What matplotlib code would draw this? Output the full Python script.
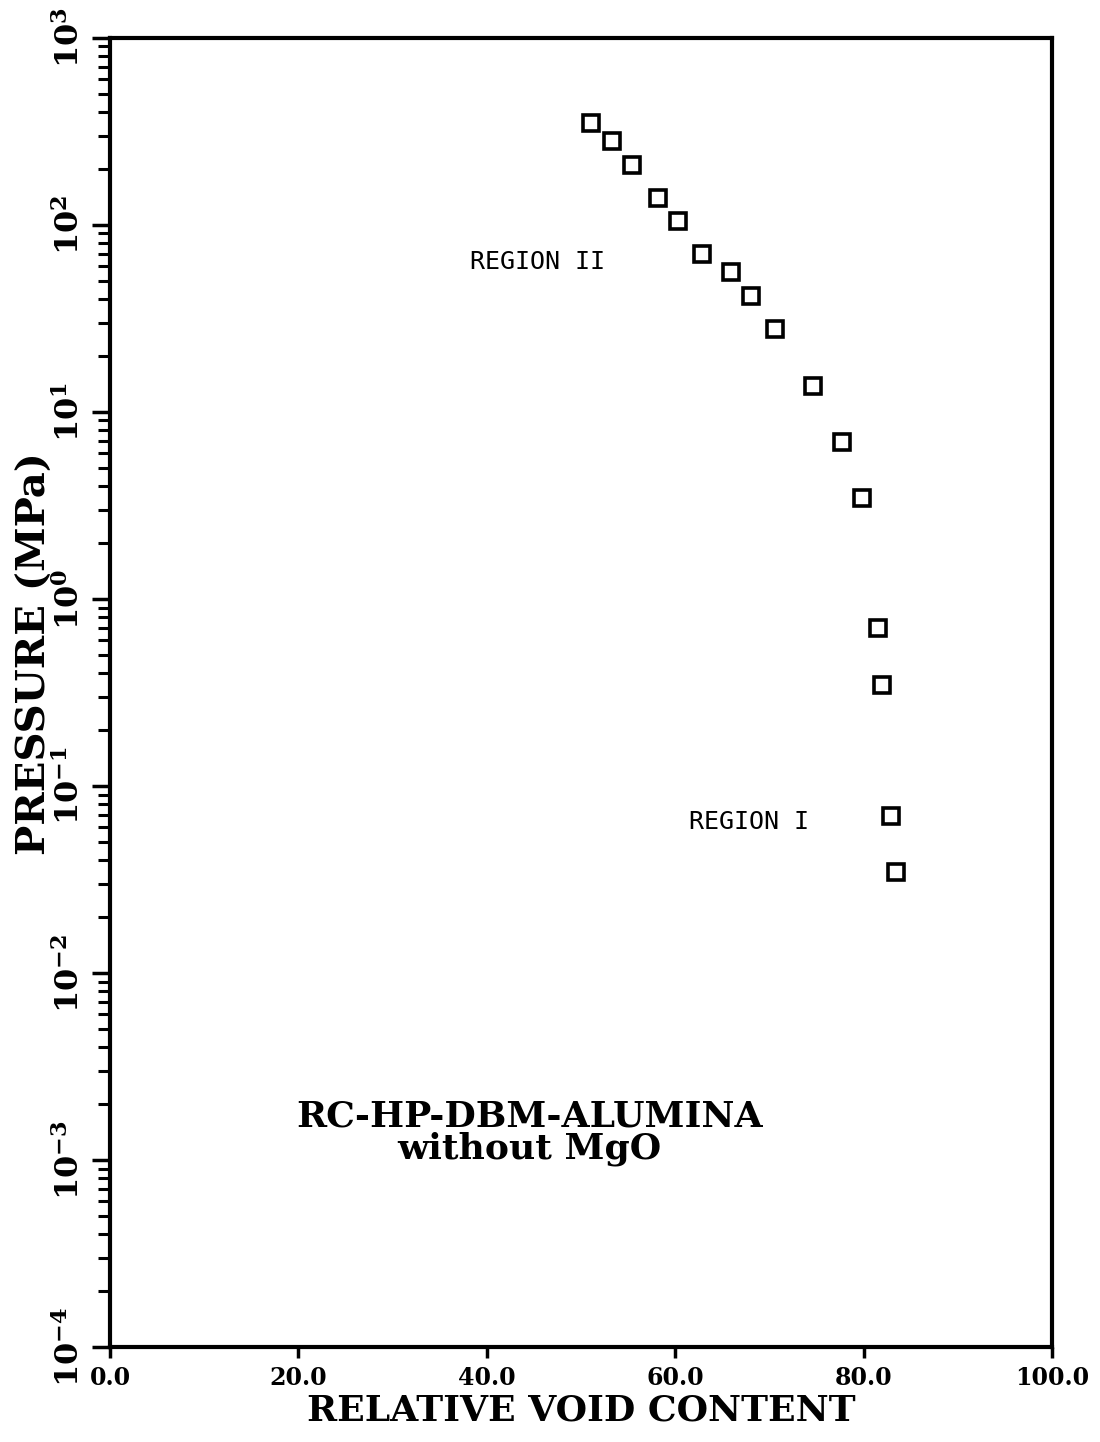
import matplotlib.pyplot as plt
import matplotlib.ticker as mticker

# relative void content (%) and pressure (MPa)
void_content = [51.1, 53.3, 55.4, 58.2, 60.3, 62.8, 65.9, 68.0, 70.6,
                74.6, 77.7, 79.8, 81.5, 82.0, 82.9, 83.4]
pressure = [351, 281, 209, 139, 105, 70, 56, 41.7, 27.8,
            13.8, 6.9, 3.47, 0.70, 0.347, 0.069, 0.0347]

x_ticks = [0, 20, 40, 60, 80, 100]
x_tick_labels = ['0.0', '20.0', '40.0', '60.0', '80.0', '100.0']
y_exponents = [-4, -3, -2, -1, 0, 1, 2, 3]

serif = 'DejaVu Serif'
plt.rcParams['mathtext.fontset'] = 'dejavuserif'

fig = plt.figure(figsize=(11, 14.42), dpi=100)
ax = fig.add_axes([0.1, 0.0659, 0.8564, 0.9078])

ax.plot(void_content, pressure, linestyle='none', marker='s', markersize=11,
        markerfacecolor='white', markeredgecolor='black', markeredgewidth=2.6)

ax.set_yscale('log')
ax.set_xlim(0, 100)
ax.set_ylim(1e-4, 1e3)

ax.set_xticks(x_ticks)
ax.set_xticklabels(x_tick_labels, fontfamily=serif, fontweight='bold', fontsize=17)

ax.set_yticks([10.0 ** e for e in y_exponents])
ax.set_yticklabels([r'$\mathbf{10^{%d}}$' % e for e in y_exponents],
                   rotation=90, va='center', fontsize=23)
ax.yaxis.set_minor_locator(mticker.LogLocator(base=10, subs=range(2, 10), numticks=20))
ax.yaxis.set_minor_formatter(mticker.NullFormatter())

ax.tick_params(axis='x', direction='out', length=8, width=2.5, pad=6)
ax.tick_params(axis='y', which='major', direction='out', length=13, width=2.5, pad=4)
ax.tick_params(axis='y', which='minor', direction='out', length=9, width=2.2)

for s in ax.spines.values():
    s.set_linewidth(3)

ax.set_xlabel('RELATIVE VOID CONTENT', fontfamily=serif, fontweight='bold',
              fontsize=26, labelpad=2)
ax.set_ylabel('PRESSURE (MPa)', fontfamily=serif, fontweight='bold',
              fontsize=29)
ax.yaxis.set_label_coords(-0.06, 0.53)

ax.text(38.2, 63, 'REGION II', fontfamily='DejaVu Sans Mono', fontsize=18,
        va='center', ha='left')
ax.text(61.5, 0.064, 'REGION I', fontfamily='DejaVu Sans Mono', fontsize=18,
        va='center', ha='left')
ax.text(44.5, 1.4e-3, 'RC-HP-DBM-ALUMINA\nwithout MgO', fontfamily=serif,
        fontweight='bold', fontsize=26, ha='center', va='center',
        multialignment='center', linespacing=0.9)

fig.savefig('out.png', dpi=100)
